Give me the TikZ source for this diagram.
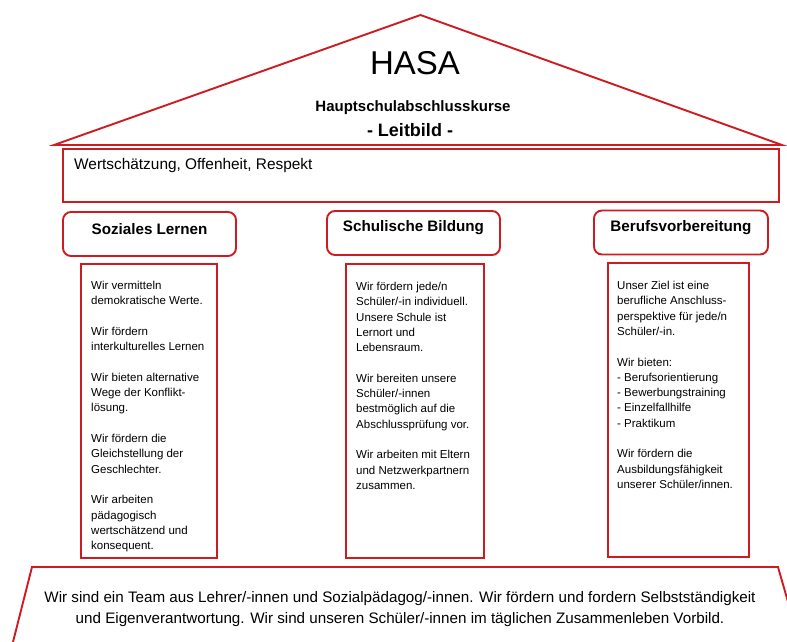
\documentclass[tikz,border=0pt]{standalone}
\usepackage{fontspec}
\setmainfont{Liberation Sans}
\definecolor{hasared}{RGB}{204,28,34}
\tikzset{
  redline/.style={draw=hasared, line width=1.9pt},
  headbox/.style={redline, rounded corners=8pt, minimum width=173pt, minimum height=44pt, inner sep=0pt},
  headtxt/.style={font=\fontsize{15.2}{18}\selectfont\bfseries, inner sep=0pt},
  colbox/.style={redline, inner sep=0pt, anchor=north west},
  coltxt/.style={font=\fontsize{11.5}{15.3}\selectfont, align=left, inner sep=0pt, anchor=north west},
}
\begin{document}
\begin{tikzpicture}[x=1pt,y=-1pt]
\useasboundingbox (0,0) rectangle (787,642);
% roof
\coordinate (apex) at (420.5,15);
\coordinate (rl) at (54,145);
\coordinate (rr) at (782,145);
\draw[redline, line join=miter] (rl) -- (apex) -- (rr) -- cycle;
\node[inner sep=0pt, font=\fontsize{33}{36}\selectfont] (hasa) at (415,63) {HASA};
\node[inner sep=0pt, font=\fontsize{15}{18}\selectfont\bfseries] (hsk) at (413,108) {Hauptschulabschlusskurse};
\node[inner sep=0pt, font=\fontsize{18}{20}\selectfont\bfseries] (lb) at (410,130) {- Leitbild -};
% Leitbild box
\node[redline, minimum width=716pt, minimum height=53pt, inner sep=0pt] (wbox) at (421,175.5) {};
\node[inner sep=0pt, anchor=west, font=\fontsize{15.4}{18}\selectfont] (wtxt) at (74,166) {Wertschätzung, Offenheit, Respekt};
% headers
\node[headbox] (h1) at (149.5,234) {};
\node[headtxt] (t1) at ([yshift=5pt]h1.center) {Soziales Lernen};
\node[headbox] (h2) at (413.5,233) {};
\node[headtxt] (t2) at ([yshift=5pt]h2.center) {Schulische Bildung};
\node[headbox, minimum width=174pt] (h3) at (681,232.5) {};
\node[headtxt] (t3) at ([yshift=5pt]h3.center) {Berufsvorbereitung};
% column boxes
\node[colbox, minimum width=136pt, minimum height=294pt] (c1) at (80,263) {};
\node[colbox, minimum width=138pt, minimum height=294pt] (c2) at (345,263) {};
\node[colbox, minimum width=141pt, minimum height=294pt] (c3) at (607,262) {};
\node[coltxt] (x1) at (91,281) {Wir vermitteln\\demokratische Werte.\\[15.3pt]Wir fördern\\interkulturelles Lernen\\[15.3pt]Wir bieten alternative\\Wege der Konflikt-\\lösung.\\[15.3pt]Wir fördern die\\Gleichstellung der\\Geschlechter.\\[15.3pt]Wir arbeiten\\pädagogisch\\wertschätzend und\\konsequent.};
\node[coltxt] (x2) at (356,282) {Wir fördern jede/n\\Schüler/-in individuell.\\Unsere Schule ist\\Lernort und\\Lebensraum.\\[15.3pt]Wir bereiten unsere\\Schüler/-innen\\bestmöglich auf die\\Abschlussprüfung vor.\\[15.3pt]Wir arbeiten mit Eltern\\und Netzwerkpartnern\\zusammen.};
\node[coltxt] (x3) at (617,281) {Unser Ziel ist eine\\berufliche Anschluss-\\perspektive für jede/n\\Schüler/-in.\\[15.3pt]Wir bieten:\\- Berufsorientierung\\- Bewerbungstraining\\- Einzelfallhilfe\\- Praktikum\\[15.3pt]Wir fördern die\\Ausbildungsfähigkeit\\unserer Schüler/innen.};
% bottom foundation
\begin{scope}
\clip (0,0) rectangle (787,642);
\coordinate (fbl) at (13,642);
\coordinate (ftl) at (32,567);
\coordinate (ftr) at (778,567);
\coordinate (fbr) at (799.5,642);
\draw[redline, line join=miter] (fbl) -- (ftl) -- (ftr) -- (fbr);
\end{scope}
\node[inner sep=0pt, align=center, font=\fontsize{15.2}{21}\selectfont] (ftxt) at (400,609) {Wir sind ein Team aus Lehrer/-innen und Sozialpädagog/-innen. Wir fördern und fordern Selbstständigkeit\\und Eigenverantwortung. Wir sind unseren Schüler/-innen im täglichen Zusammenleben Vorbild.};
\end{tikzpicture}
\end{document}
